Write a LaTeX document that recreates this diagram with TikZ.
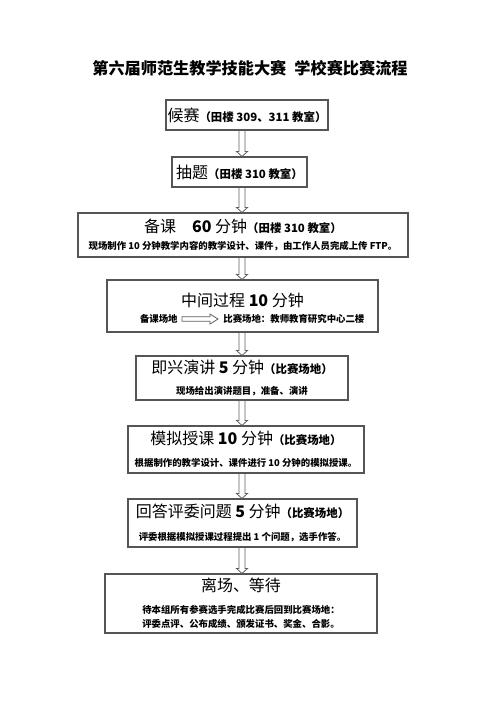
\documentclass[tikz,border=0pt]{standalone}
\usepackage{fontspec}
\setmainfont{Noto Sans CJK SC}
\usetikzlibrary{calc,positioning}
\definecolor{boxgray}{RGB}{85,85,85}
\definecolor{arrowgray}{RGB}{95,95,95}
\newcommand{\mainsz}{\fontsize{9.1}{11}\selectfont\mdseries}
\newcommand{\notesz}{\fontsize{6.5}{8}\selectfont\bfseries}
\newcommand{\subsz}{\fontsize{5.35}{8}\selectfont\bfseries}
\tikzset{
  stagebox/.style={draw=boxgray, line width=0.6pt, fill=white, align=center,
    inner sep=0pt, font=\subsz},
  arrowline/.style={draw=arrowgray, line width=0.45pt, line join=miter},
}
% hollow block arrow, downwards from one box to the next
\newcommand{\flowarrow}[2]{%
  \draw[arrowline] let \p1=(#1.south -| ax), \p2=(#2.north -| ax) in
    (\x1-0.06cm,\y1) -- (\x1-0.06cm,\y2+0.1cm) -- (\x1-0.11cm,\y2+0.1cm)
    -- (\x2,\y2) -- (\x1+0.11cm,\y2+0.1cm) -- (\x1+0.06cm,\y2+0.1cm)
    -- (\x1+0.06cm,\y1);}
% hollow block arrow, sideways between two texts
\newcommand{\sidearrow}[2]{%
  \draw[arrowline] let \p1=(#1.east), \p2=(#2.west) in
    (\x1,\y1-0.045cm) -- (\x2-0.16cm,\y1-0.045cm) -- (\x2-0.16cm,\y1-0.1cm)
    -- (\x2,\y1) -- (\x2-0.16cm,\y1+0.1cm) -- (\x2-0.16cm,\y1+0.045cm)
    -- (\x1,\y1+0.045cm) -- cycle;}

\begin{document}
\begin{tikzpicture}
  \fill[white] (0,0) rectangle (10,-14.14);
  \useasboundingbox (0,0) rectangle (10,-14.14);
  \coordinate (ax) at (4.84,0);
  % --- title ---
  \node[font=\fontsize{9.2}{11}\selectfont\bfseries] (title) at (5.0,-1.36)
    {第六届师范生教学技能大赛\hspace{0.5em}学校赛比赛流程};
  % --- stages ---
  \node[stagebox, minimum width=3.24cm, minimum height=0.6cm] (waiting) at (4.94,-2.30)
    {{\mainsz 候赛}{\notesz （田楼 309、311 教室）}};
  \node[stagebox, minimum width=2.70cm, minimum height=0.6cm] (lottery) at (4.79,-3.44)
    {{\mainsz 抽题}{\notesz （田楼 310 教室）}};
  \node[stagebox, minimum width=6.60cm, minimum height=0.88cm] (prep) at (4.86,-4.70)
    {{\mainsz 备课\hspace{1em}\textbf{60} 分钟}{\notesz （田楼 310 教室）}\\[2pt]
     现场制作 10 分钟教学内容的教学设计、课件，由工作人员完成上传 FTP。};
  \node[stagebox, minimum width=5.42cm, minimum height=1.04cm] (transfer) at (4.85,-6.12) {};
  \node[font=\mainsz, inner sep=0pt] (transfertitle) at (4.85,-6.0)
    {中间过程 \textbf{10} 分钟};
  \node[font=\subsz, anchor=east, inner sep=0.08cm] (oldroom) at (3.64,-6.38) {备课场地};
  \node[font=\subsz, anchor=west, inner sep=0.1cm] (newroom) at (4.36,-6.38)
    {比赛场地：教师教育研究中心二楼};
  \node[stagebox, minimum width=4.24cm, minimum height=0.88cm] (speech) at (4.84,-7.56)
    {{\mainsz 即兴演讲 \textbf{5} 分钟}{\notesz （比赛场地）}\\[4pt]
     现场给出演讲题目，准备、演讲};
  \node[stagebox, minimum width=4.72cm, minimum height=0.94cm] (teach) at (4.92,-8.99)
    {{\mainsz 模拟授课 \textbf{10} 分钟}{\notesz （比赛场地）}\\[4.6pt]
     根据制作的教学设计、课件进行 10 分钟的模拟授课。};
  \node[stagebox, minimum width=4.58cm, minimum height=0.96cm] (answer) at (4.85,-10.46)
    {{\mainsz 回答评委问题 \textbf{5} 分钟}{\notesz （比赛场地）}\\[4.9pt]
     评委根据模拟授课过程提出 1 个问题，选手作答。};
  \node[stagebox, minimum width=5.44cm, minimum height=1.18cm] (leave) at (4.82,-12.07)
    {{\mainsz 离场、等待}\\[4.3pt]
     待本组所有参赛选手完成比赛后回到比赛场地：\\
     评委点评、公布成绩、颁发证书、奖金、合影。};
  % --- arrows ---
  \flowarrow{waiting}{lottery}
  \flowarrow{lottery}{prep}
  \flowarrow{prep}{transfer}
  \flowarrow{transfer}{speech}
  \flowarrow{speech}{teach}
  \flowarrow{teach}{answer}
  \flowarrow{answer}{leave}
  \sidearrow{oldroom}{newroom}
\end{tikzpicture}
\end{document}
